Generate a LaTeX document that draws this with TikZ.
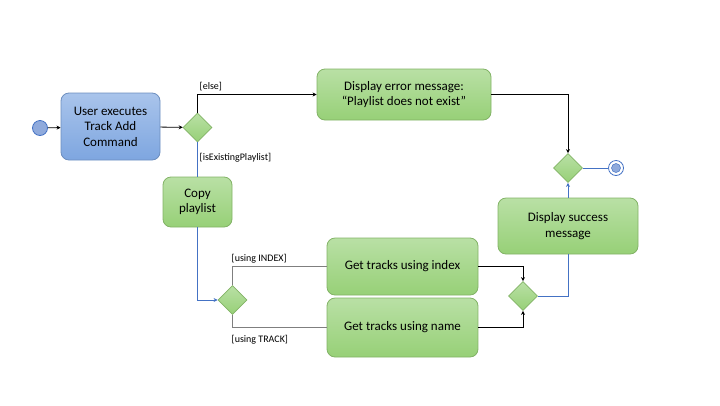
\documentclass[tikz,border=0pt]{standalone}
\usepackage{fontspec}
\setmainfont{Carlito}
\usetikzlibrary{arrows.meta,shapes.geometric}
\definecolor{bfillT}{HTML}{A9C4EB}
\definecolor{bfillB}{HTML}{7EA6E0}
\definecolor{bstroke}{HTML}{6C8EBF}
\definecolor{gfillT}{HTML}{B9E0A5}
\definecolor{gfillB}{HTML}{97D077}
\definecolor{gstroke}{HTML}{82B366}
\definecolor{bline}{HTML}{4472C4}
\definecolor{gline}{HTML}{7F7F7F}
\definecolor{cfill}{HTML}{8FAADC}
\tikzset{
  act/.style={draw=gstroke, line width=0.8pt, rounded corners=8pt, top color=gfillT, bottom color=gfillB,
    align=center, font=\fontsize{13}{15.5}\selectfont, inner sep=0pt},
  bact/.style={act, draw=bstroke, top color=bfillT, bottom color=bfillB},
  dec/.style={diamond, draw=gstroke, line width=0.8pt, top color=gfillT, bottom color=gfillB,
    minimum width=29pt, minimum height=29pt, inner sep=0pt},
  lbl/.style={font=\fontsize{10}{12}\selectfont, inner sep=0pt, anchor=west},
  arr/.style={-{Stealth[length=4pt,width=4pt]}},
  con/.style={line width=0.8pt},
}
\begin{document}
\begin{tikzpicture}[x=1pt,y=-1pt]
\useasboundingbox (0,0) rectangle (720,405);
% nodes
\node[circle, draw=bline, fill=cfill, line width=0.8pt, minimum size=15pt, inner sep=0pt] (init) at (40,128) {};
\node[bact, minimum width=99pt, minimum height=67pt] (user) at (110.5,126.5) {User executes\\Track Add\\Command};
\node[dec] (d1) at (197.5,127.5) {};
\node[act, minimum width=174pt, minimum height=51pt] (err) at (404,94.5) {Display error message:\\“Playlist does not exist”};
\node[dec] (d2) at (568,168) {};
\node[circle, draw=bline, line width=0.8pt, minimum size=15pt, inner sep=0pt] (fin) at (616,168) {};
\node[circle, fill=cfill, draw=bline, line width=0.5pt, minimum size=9pt, inner sep=0pt] (finin) at (616,168) {};
\node[act, minimum width=69pt, minimum height=50pt] (copy) at (197.5,202) {Copy\\playlist};
\node[dec] (d3) at (232.5,300) {};
\node[act, minimum width=151pt, minimum height=57pt] (idx) at (402.5,266.5) {Get tracks using index};
\node[act, minimum width=151pt, minimum height=59pt] (nam) at (402.5,327.5) {Get tracks using name};
\node[dec] (d4) at (523,296) {};
\node[act, minimum width=140pt, minimum height=56pt] (succ) at (568,226) {Display success\\message};
% labels
\node[lbl] (lelse) at (199.5,87) {[else]};
\node[lbl] (lexist) at (199.5,157.5) {[isExistingPlaylist]};
\node[lbl] (lindex) at (231.5,259) {[using INDEX]};
\node[lbl] (ltrack) at (231.5,340) {[using TRACK]};
% connectors
\draw[con, arr] (init) -- (user);
\draw[con, arr] (user) -- (d1);
\draw[con, arr] (d1.north) |- (err.west);
\draw[con, bline] (d1.south) -- (copy.north);
\draw[con, arr] (err.east) -| (d2.north);
\draw[con, bline] (d2.east) -- (fin);
\draw[con, bline, arr] (copy.south) |- (d3.west);
\draw[con, gline] (d3.north) |- (idx.west);
\draw[con, gline] (d3.south) |- (nam.west);
\draw[con, arr] (idx.east) -| (d4.north);
\draw[con, arr] (nam.east) -| (d4.south);
\draw[con, bline] (d4.east) -| (succ.south);
\draw[con, bline, arr] (succ.north) -- (d2.south);
\end{tikzpicture}
\end{document}
